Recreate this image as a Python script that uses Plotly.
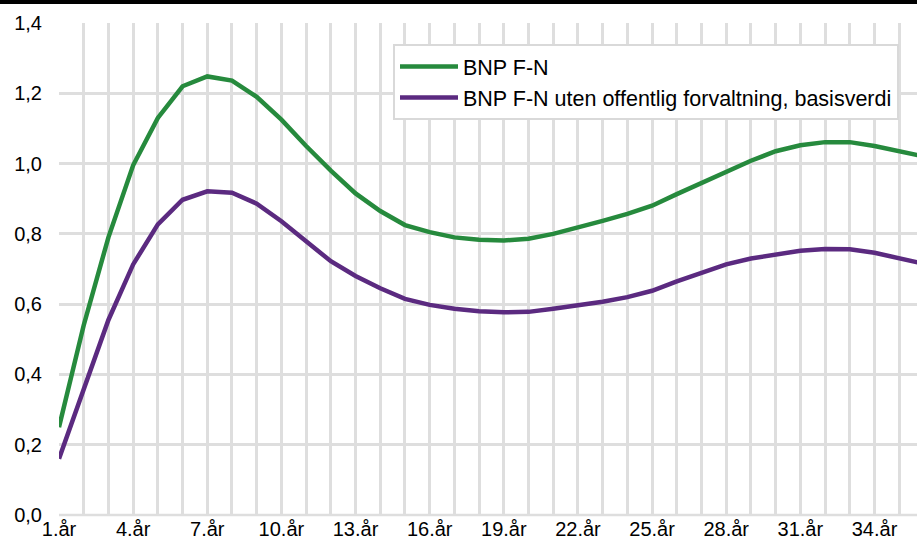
import plotly.graph_objects as go

# years shown on the x axis
years = [f"{i}.år" for i in range(1, 37)]

bnp_fn = [
    0.25, 0.54, 0.79, 0.995, 1.13, 1.22, 1.248, 1.236, 1.19, 1.125,
    1.05, 0.98, 0.915, 0.865, 0.825, 0.805, 0.79, 0.783, 0.781, 0.786,
    0.80, 0.817, 0.837, 0.857, 0.88, 0.913, 0.945, 0.976, 1.008, 1.035,
    1.052, 1.061, 1.061, 1.05, 1.035, 1.02,
]
bnp_fn_uten_off = [
    0.16, 0.36, 0.555, 0.713, 0.827, 0.897, 0.921, 0.917, 0.886, 0.836,
    0.779, 0.722, 0.68, 0.645, 0.615, 0.598, 0.587, 0.58, 0.577, 0.578,
    0.587, 0.596, 0.607, 0.62, 0.638, 0.665, 0.69, 0.713, 0.73, 0.742,
    0.752, 0.757, 0.756, 0.746, 0.73, 0.715,
]

GREEN = "#268a3d"
PURPLE = "#5b2a80"
GRID = "#dedede"
FONT = "Liberation Sans, Arial, sans-serif"

fig = go.Figure()
fig.add_trace(go.Scatter(
    x=years, y=bnp_fn, mode="lines", name="BNP F-N",
    line=dict(color=GREEN, width=4.5), legendgroup="a",
))
fig.add_trace(go.Scatter(
    x=years, y=bnp_fn_uten_off, mode="lines",
    name="BNP F-N uten offentlig forvaltning, basisverdi",
    line=dict(color=PURPLE, width=4.5), legendgroup="b",
))

# label every third year, grid line at every year
ticktext = [y if i % 3 == 0 else "" for i, y in enumerate(years)]

plot_w = 917 - 59
plot_h = 515 - 23

fig.update_layout(
    width=917, height=540,
    margin=dict(l=59, r=0, t=23, b=25),
    paper_bgcolor="white", plot_bgcolor="white",
    font=dict(family=FONT, size=20, color="#000000"),
    separators=",.",
    showlegend=True,
    legend=dict(
        x=(393 - 59) / plot_w, y=(515 - 44) / plot_h,
        xanchor="left", yanchor="top",
        bgcolor="white", bordercolor="#d9d9d9", borderwidth=2,
        font=dict(size=21.5), traceorder="grouped", tracegroupgap=0,
        itemwidth=58,
    ),
    xaxis=dict(
        type="category", range=[0, 34.72],
        tickvals=years, ticktext=ticktext,
        showgrid=True, gridcolor=GRID, gridwidth=2.5,
        showline=False, zeroline=False, ticks="", ticklen=0,
        tickangle=0, automargin=False, ticklabelstandoff=0,
    ),
    yaxis=dict(
        range=[0, 1.4], dtick=0.2, tickformat=".1f",
        showgrid=True, gridcolor=GRID, gridwidth=2.5,
        zeroline=False, showline=False, ticks="",
        ticklabelstandoff=16, automargin=False,
    ),
    shapes=[
        dict(type="line", xref="paper", yref="paper",
             x0=-59 / plot_w, x1=1.0,
             y0=1 + (23 - 2) / plot_h, y1=1 + (23 - 2) / plot_h,
             line=dict(color="black", width=4)),
        dict(type="line", xref="x", yref="paper",
             x0=0, x1=34.72, y0=0, y1=0,
             line=dict(color=GRID, width=2.5), layer="below"),
    ],
)

# drop the default page margin so the figure sits at the window's corner
fig.write_html(
    "out.html",
    config={"displayModeBar": False},
    post_script="document.body.style.margin='0';",
)
